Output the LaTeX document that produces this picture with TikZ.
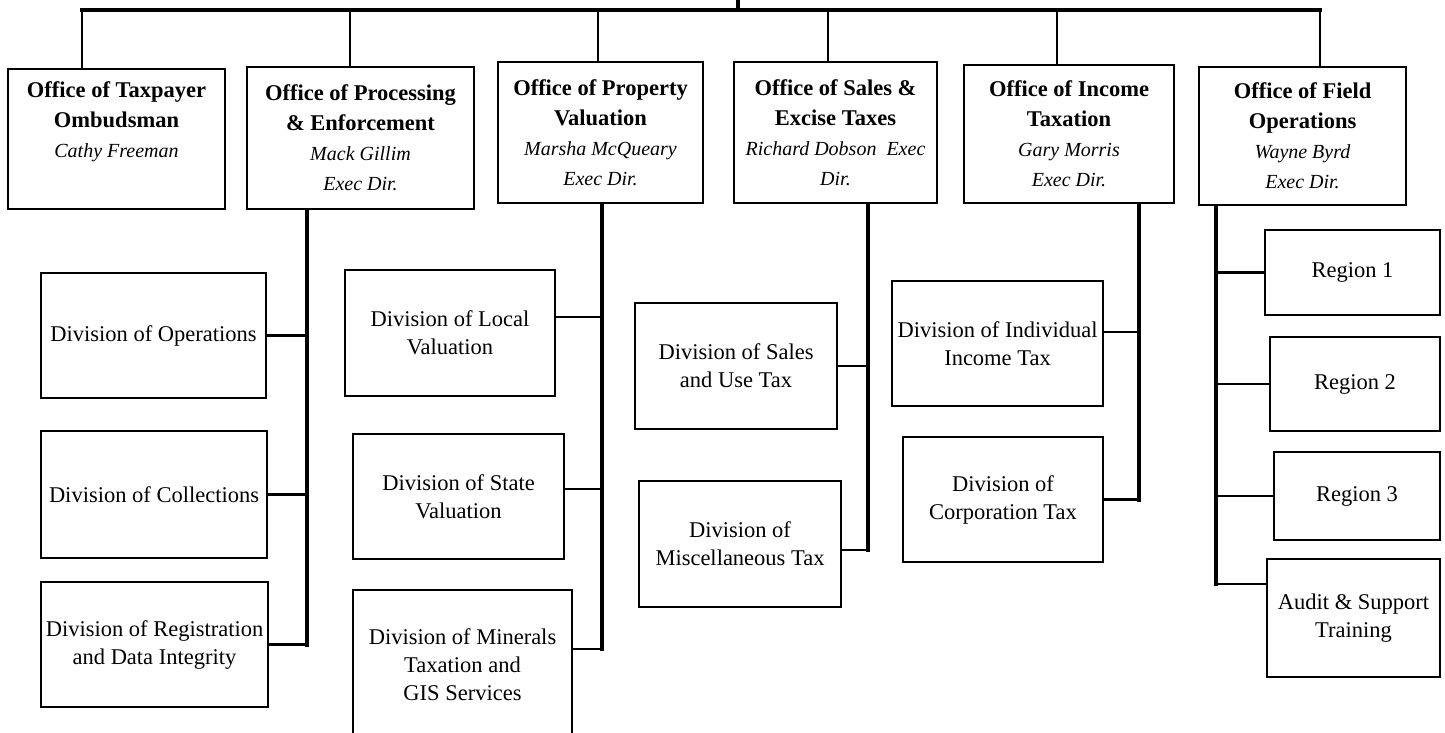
\documentclass[tikz,border=0pt]{standalone}
\usepackage{fontspec}
\setmainfont{Liberation Serif}
\newcommand{\who}[1]{{\normalfont\fontsize{20}{30}\selectfont\itshape #1}}

\begin{document}
\begin{tikzpicture}[x=1pt, y=-1pt,
    unit/.style={draw, line width=2.5pt, align=center, inner sep=0pt,
      font=\fontsize{22.5}{28}\selectfont},
    office/.style={unit, font=\fontsize{22.5}{30}\selectfont\bfseries},
    link/.style={line width=2.4pt},
    trunk/.style={line width=4.8pt, line cap=rect}]
  \useasboundingbox (0,0) rectangle (1445,732);

  % the six offices
  \node[office, minimum width=217, minimum height=140] (taxpayer) at (116.5,139)
    {Office of Taxpayer\\Ombudsman\\\who{Cathy Freeman}\\\strut};
  \node[office, minimum width=227, minimum height=142] (processing) at (360.5,138)
    {Office of Processing\\\& Enforcement\\\who{Mack Gillim}\\\who{Exec Dir.}};
  \node[office, minimum width=205, minimum height=141] (property) at (600.5,132.5)
    {Office of Property\\Valuation\\\who{Marsha McQueary}\\\who{Exec Dir.}};
  \node[office, minimum width=203, minimum height=141] (sales) at (835.5,132.5)
    {Office of Sales \&\\Excise Taxes\\\who{Richard Dobson~~Exec}\\\who{Dir.}};
  \node[office, minimum width=210, minimum height=138] (income) at (1069,134)
    {Office of Income\\Taxation\\\who{Gary Morris}\\\who{Exec Dir.}};
  \node[office, minimum width=207, minimum height=138] (field) at (1302.5,136)
    {Office of Field\\Operations\\\who{Wayne Byrd}\\\who{Exec Dir.}};

  % divisions under each office
  \node[unit, minimum width=225, minimum height=125] (ops) at (153.5,335.5) {Division of Operations};
  \node[unit, minimum width=226, minimum height=127] (coll) at (154,494.5) {Division of Collections};
  \node[unit, minimum width=227, minimum height=125] (reg) at (154.5,644.5) {Division of Registration\\and Data Integrity};

  \node[unit, minimum width=210, minimum height=126] (local) at (450,333) {Division of Local\\Valuation};
  \node[unit, minimum width=211, minimum height=125] (state) at (458.5,496.5) {Division of State\\Valuation};
  \node[unit, minimum width=219, minimum height=150] (minerals) at (462.5,665) {Division of Minerals\\Taxation and\\GIS Services};

  \node[unit, minimum width=202, minimum height=126] (salesuse) at (736,366) {Division of Sales\\and Use Tax};
  \node[unit, minimum width=202, minimum height=126] (misc) at (740,544) {Division of\\Miscellaneous Tax};

  \node[unit, minimum width=211, minimum height=125] (individual) at (997.5,343.5) {Division of Individual\\Income Tax};
  \node[unit, minimum width=200, minimum height=125] (corporation) at (1003,499.5) {Division of\\Corporation Tax};

  \node[unit, minimum width=175, minimum height=85] (region1) at (1352.5,272.5) {Region 1};
  \node[unit, minimum width=170, minimum height=94] (region2) at (1355,384) {Region 2};
  \node[unit, minimum width=166, minimum height=88] (region3) at (1357,496) {Region 3};
  \node[unit, minimum width=173, minimum height=118] (audit) at (1353.5,618) {Audit \& Support\\Training};

  % top bus and the drops to the offices
  \coordinate (root) at (738,0);
  \coordinate (busL) at (82,10);
  \coordinate (busR) at (1320,10);
  \draw[trunk] (busL) -- (busR);
  \draw[trunk, line cap=butt] (root) -- (root |- busL);
  \foreach \o/\x in {taxpayer/82, processing/350, property/598, sales/828, income/1057, field/1320} {
    \coordinate (drop) at (\x,10);
    \draw[link] (drop) -- (drop |- \o.north);
  }

  % tie points where a link leaves a division box off centre
  \coordinate (tLocal) at ([yshift=16]local.east);
  \coordinate (tState) at ([yshift=7.5]state.east);
  \coordinate (tMinerals) at ([yshift=16]minerals.east);
  \coordinate (tSalesuse) at (salesuse.east);
  \coordinate (tMisc) at ([yshift=-6]misc.east);
  \coordinate (tIndividual) at ([yshift=11.5]individual.east);
  \coordinate (tCorporation) at (corporation.east);
  \coordinate (tAudit) at ([yshift=34]audit.west);

  % processing & enforcement
  \coordinate (spA) at (307,0);
  \draw[trunk] (spA |- processing.south) -- (spA |- reg.east);
  \foreach \d in {ops, coll, reg}
    \draw[link] (\d.east) -- (\d.east -| spA);

  % property valuation
  \coordinate (spB) at (602,0);
  \draw[trunk] (spB |- property.south) -- (spB |- tMinerals);
  \foreach \d in {tLocal, tState, tMinerals}
    \draw[link] (\d) -- (\d -| spB);

  % sales & excise
  \coordinate (spC) at (868,0);
  \draw[trunk] (spC |- sales.south) -- (spC |- tMisc);
  \foreach \d in {tSalesuse, tMisc}
    \draw[link] (\d) -- (\d -| spC);

  % income taxation
  \coordinate (spD) at (1139,0);
  \draw[trunk] (spD |- income.south) -- (spD |- tCorporation);
  \foreach \d in {tIndividual, tCorporation}
    \draw[link] (\d) -- (\d -| spD);

  % field operations
  \coordinate (spE) at (1216,0);
  \draw[trunk] (spE |- field.south) -- (spE |- tAudit);
  \foreach \d in {region1.west, region2.west, region3.west, tAudit}
    \draw[link] (\d) -- (\d -| spE);
\end{tikzpicture}
\end{document}
